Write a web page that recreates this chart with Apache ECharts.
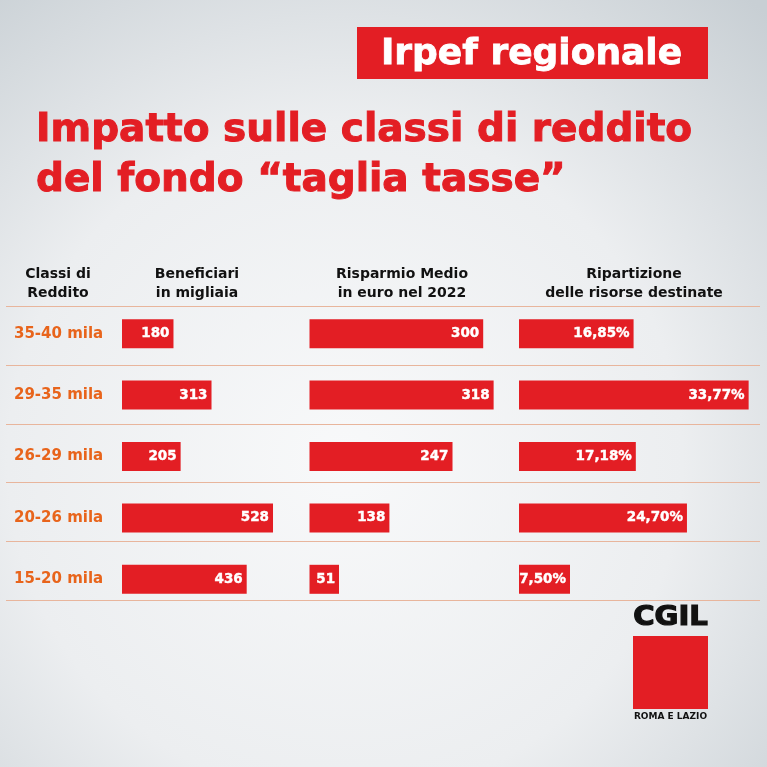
<!DOCTYPE html>
<html><head><meta charset="utf-8">
<script src="https://cdn.jsdelivr.net/npm/echarts@6/dist/echarts.min.js"></script>
<style>html,body{margin:0;padding:0;}#c{width:767px;height:767px;}</style>
</head><body><div id="c"></div>
<script>
const categories = ['35-40 mila', '29-35 mila', '26-29 mila', '20-26 mila', '15-20 mila'];
const beneficiari = [180, 313, 205, 528, 436];
const risparmio = [300, 318, 247, 138, 51];
const ripartizione = [16.85, 33.77, 17.18, 24.70, 7.50];
const headers = [
  ['Classi di', 'Reddito'],
  ['Beneficiari', 'in migliaia'],
  ['Risparmio Medio', 'in euro nel 2022'],
  ['Ripartizione', 'delle risorse destinate']
];
const tagline = 'Irpef regionale';
const titleLines = ['Impatto sulle classi di reddito', 'del fondo “taglia tasse”'];

const RED = '#e31e24';
const FONT = '"DejaVu Sans", Inter, sans-serif';

const chart = echarts.init(document.getElementById('c'), null, {renderer: 'canvas'});

const barTop = 303, barH = 307;
function grid(left, width) { return {left: left, top: barTop, width: width, height: barH}; }

function barSeries(idx, data, fmt) {
  return {
    type: 'bar', xAxisIndex: idx, yAxisIndex: idx, data: data,
    barWidth: 29,
    itemStyle: {color: RED},
    label: {
      show: true, position: 'insideRight', distance: 4,
      color: '#ffffff', fontWeight: 'bold', fontSize: 13.5, fontFamily: FONT,
      textBorderColor: '#ffffff', textBorderWidth: 0.4,
      formatter: p => fmt(p.value)
    },
    silent: true, animation: false
  };
}

const headerX = [58, 197, 402, 634];
const graphics = [];
graphics.push({type: 'rect', shape: {x: 357, y: 27, width: 351, height: 52}, style: {fill: RED}});
graphics.push({type: 'text', x: 531.5, y: 55, style: {text: tagline, fill: '#fff', font: 'bold 36px ' + FONT, textAlign: 'center', textVerticalAlign: 'middle', stroke: '#fff', lineWidth: 0.8}});
titleLines.forEach((t, i) => {
  graphics.push({type: 'text', x: 36, y: 130.5 + i * 50, style: {text: t, fill: RED, font: 'bold 39px ' + FONT, textAlign: 'left', textVerticalAlign: 'middle', stroke: RED, lineWidth: 1}});
});
headers.forEach((h, i) => {
  h.forEach((line, j) => {
    graphics.push({type: 'text', x: headerX[i], y: 274 + j * 19, style: {text: line, fill: '#111', font: 'bold 14px ' + FONT, textAlign: 'center', textVerticalAlign: 'middle'}});
  });
});
// CGIL logo
graphics.push({type: 'text', x: 670.5, y: 618.5, scaleX: 1.12, style: {text: 'CGIL', fill: '#111', font: 'bold 26px ' + FONT, textAlign: 'center', textVerticalAlign: 'middle', stroke: '#111', lineWidth: 1.2}});
graphics.push({type: 'rect', shape: {x: 633, y: 636, width: 75, height: 73}, style: {fill: RED}});
graphics.push({type: 'text', x: 670.5, y: 717, style: {text: 'ROMA E LAZIO', fill: '#111', font: 'bold 9px ' + FONT, textAlign: 'center', textVerticalAlign: 'middle'}});

const option = {
  backgroundColor: {
    type: 'radial', x: 0.45, y: 0.6, r: 0.8,
    colorStops: [{offset: 0, color: '#f8f9fa'}, {offset: 0.55, color: '#eceef0'}, {offset: 1, color: '#c8cfd4'}]
  },
  animation: false,
  grid: [
    grid(122, 171.6),
    grid(309.5, 231.6),
    grid(519, 238),
    {left: 6, right: 7, top: 306.5, height: 293.5}
  ],
  xAxis: [
    {gridIndex: 0, type: 'value', min: 0, max: 600, show: false},
    {gridIndex: 1, type: 'value', min: 0, max: 400, show: false},
    {gridIndex: 2, type: 'value', min: 0, max: 35, show: false},
    {gridIndex: 3, type: 'value', min: 0, max: 1, show: false}
  ],
  yAxis: [
    {gridIndex: 0, type: 'category', data: categories, inverse: true,
      axisLine: {show: false}, axisTick: {show: false}, splitLine: {show: false},
      axisLabel: {color: '#e8641b', fontWeight: 'bold', fontSize: 15, fontFamily: FONT, align: 'left', margin: 108}},
    {gridIndex: 1, type: 'category', data: categories, inverse: true, show: false},
    {gridIndex: 2, type: 'category', data: categories, inverse: true, show: false},
    {gridIndex: 3, type: 'category', data: categories, inverse: true,
      axisLine: {show: false}, axisTick: {show: false}, axisLabel: {show: false},
      splitLine: {show: true, lineStyle: {color: '#e8b59c', width: 1.2}}}
  ],
  series: [
    barSeries(0, beneficiari, v => String(v)),
    barSeries(1, risparmio, v => String(v)),
    barSeries(2, ripartizione, v => v.toFixed(2).replace('.', ',') + '%')
  ],
  graphic: graphics
};
chart.setOption(option);
</script>
</body></html>
